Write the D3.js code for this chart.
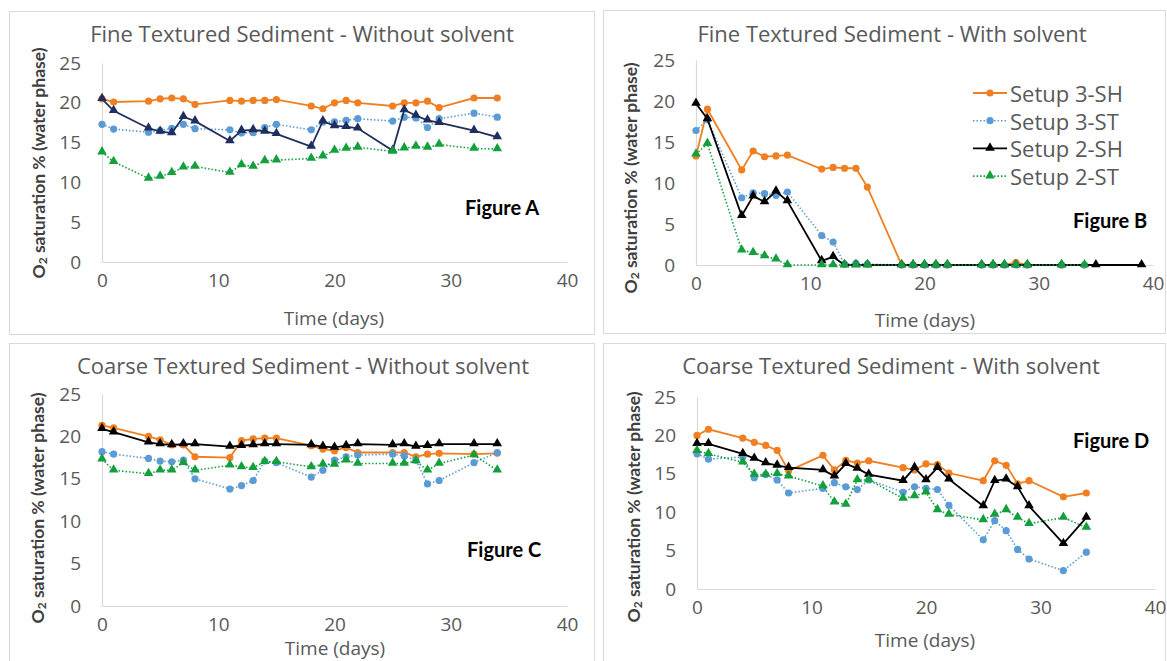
<!DOCTYPE html>
<html>
<head>
<meta charset="utf-8">
<script src="https://cdn.jsdelivr.net/npm/d3@7"></script>
<style>
  body { margin: 0; background: #fff; }
  text { font-family: "Open Sans", sans-serif; }
</style>
</head>
<body>
<div id="chart"></div>
<script>
'use strict';

// ---- data ----
const seriesNames = ['Setup 3-SH', 'Setup 3-ST', 'Setup 2-SH', 'Setup 2-ST'];
const days = [0, 1, 4, 5, 6, 7, 8, 11, 12, 13, 14, 15, 18, 19, 20, 21, 22, 25, 26, 27, 28, 29, 32, 34];
const daysB2SH = [0, 1, 4, 5, 6, 7, 8, 11, 12, 13, 14, 15, 18, 19, 20, 21, 22, 25, 26, 27, 28, 29, 32, 35, 39];
const yTicks = [0, 5, 10, 15, 20, 25];
const xTicks = [0, 10, 20, 30, 40];
const titles = [
    'Fine Textured Sediment - Without solvent',
    'Fine Textured Sediment - With solvent',
    'Coarse Textured Sediment - Without solvent',
    'Coarse Textured Sediment - With solvent'
];
const figureLabels = ['Figure A', 'Figure B', 'Figure C', 'Figure D'];

// Figure A
const a3SH = [20.5, 20.1, 20.2, 20.5, 20.6, 20.5, 19.8, 20.3, 20.2, 20.3, 20.3, 20.4, 19.6, 19.25, 20.0, 20.3, 20.0, 19.6, 20.0, 20.0, 20.2, 19.4, 20.6, 20.6];
const a3ST = [17.3, 16.7, 16.3, 16.5, 16.8, 17.3, 16.75, 16.6, 16.2, 16.25, 16.9, 17.3, 16.6, 17.6, 17.6, 17.8, 18.0, 17.7, 18.2, 18.1, 16.9, 18.0, 18.7, 18.2];
const a2SH = [20.5, 19.0, 16.8, 16.4, 16.2, 18.25, 17.7, 15.2, 16.5, 16.6, 16.4, 16.1, 14.5, 17.7, 17.1, 17.0, 16.8, 14.0, 19.1, 18.4, 17.8, 17.5, 16.5, 15.7];
const a2ST = [13.8, 12.6, 10.5, 10.75, 11.2, 11.9, 12.0, 11.25, 12.2, 12.0, 12.7, 12.8, 13.0, 13.3, 14.0, 14.25, 14.4, 13.9, 14.3, 14.5, 14.4, 14.75, 14.25, 14.2];

// Figure B
const b3SH = [13.3, 19.0, 11.6, 13.9, 13.2, 13.3, 13.4, 11.7, 11.9, 11.8, 11.8, 9.5, 0, 0, 0, 0, 0, 0, 0, 0, 0.3, 0, 0, 0];
const b3ST = [16.4, 17.7, 8.2, 8.8, 8.7, 8.5, 8.9, 3.6, 2.8, 0.1, 0.2, 0.1, 0, 0, 0, 0, 0, 0, 0, 0, 0, 0, 0, 0];
const b2SH = [19.7, 17.8, 6.0, 8.4, 7.7, 9.0, 7.8, 0.5, 1.0, 0, 0, 0, 0, 0, 0, 0, 0, 0, 0, 0, 0, 0, 0, 0, 0];
const b2ST = [13.5, 14.8, 1.8, 1.5, 1.1, 0.7, 0, 0, 0, 0, 0, 0, 0, 0, 0, 0, 0, 0, 0, 0, 0, 0, 0, 0];

// Figure C
const c3SH = [21.3, 21.0, 20.0, 19.6, 19.0, 19.0, 17.6, 17.5, 19.5, 19.7, 19.8, 19.8, 18.9, 18.5, 18.3, 18.7, 18.1, 18.1, 18.1, 17.6, 17.9, 18.0, 17.9, 18.0];
const c3ST = [18.2, 17.9, 17.4, 17.1, 17.0, 17.2, 15.0, 13.8, 14.2, 14.8, 17.1, 16.9, 15.2, 16.0, 17.2, 17.6, 17.8, 17.9, 17.7, 17.2, 14.4, 14.8, 16.9, 18.1];
const c2SH = [20.9, 20.5, 19.3, 19.1, 19.0, 19.1, 19.1, 18.8, 18.9, 19.0, 19.1, 19.1, 19.0, 18.8, 18.7, 18.9, 19.1, 19.0, 19.1, 18.8, 18.9, 19.1, 19.1, 19.1];
const c2ST = [17.3, 16.0, 15.6, 16.0, 16.0, 16.9, 16.0, 16.6, 16.4, 16.3, 17.0, 17.0, 16.4, 16.7, 16.7, 17.2, 16.8, 16.8, 16.8, 17.1, 16.0, 16.8, 17.8, 16.0];

// Figure D
const d3SH = [20.0, 20.8, 19.65, 19.1, 18.7, 18.05, 15.4, 17.4, 15.5, 16.75, 16.4, 16.7, 15.8, 15.5, 16.3, 16.2, 15.1, 14.1, 16.7, 16.1, 13.7, 14.1, 12.0, 12.5];
const d3ST = [17.6, 16.9, 17.2, 14.5, 14.9, 14.2, 12.5, 13.1, 13.85, 13.3, 12.95, 14.2, 12.6, 13.3, 13.1, 12.95, 10.9, 6.4, 8.9, 7.6, 5.15, 3.9, 2.4, 4.8];
const d2SH = [18.9, 18.9, 17.6, 17.0, 16.4, 16.1, 15.8, 15.5, 14.7, 16.3, 15.7, 14.9, 14.1, 15.8, 14.2, 15.8, 14.3, 10.8, 14.1, 14.3, 13.3, 10.8, 5.9, 9.3];
const d2ST = [18.0, 17.6, 16.5, 14.9, 14.9, 15.0, 14.7, 13.4, 11.3, 11.0, 14.2, 14.2, 11.8, 12.1, 12.6, 10.3, 9.7, 9.0, 9.7, 10.3, 9.3, 8.5, 9.3, 8.0];

// ---- layout / style ----
const W = 1167, H = 661;
const grey = '#595959';
const styles = [
    {color: '#F07F22', dash: null, marker: 'circle'},
    {color: '#5B9BD5', dash: '1.5,2', marker: 'circle'},
    {color: '#000000', dash: null, marker: 'triangle'},
    {color: '#13A03C', dash: '1.5,2', marker: 'triangle'}
];

const panels = [
    {frame: [9, 11, 594, 334], x: [102, 567], y: [262, 63], title: [302, 33], ytitle: [38, 163], xtitle: [334, 318], fig: [465, 215],
     series: [[days, a3SH], [days, a3ST], [days, a2SH], [days, a2ST]], color2SH: '#1F2E5E'},
    {frame: [603, 10, 1165, 333], x: [696, 1153], y: [265, 60], title: [892, 33], ytitle: [630, 178], xtitle: [925, 320], fig: [1073, 228],
     series: [[days, b3SH], [days, b3ST], [daysB2SH, b2SH], [days, b2ST]], legend: true},
    {frame: [9, 343, 594, 700], x: [102, 567], y: [606, 394], title: [303, 365], ytitle: [37, 508], xtitle: [335, 648], fig: [467, 557],
     series: [[days, c3SH], [days, c3ST], [days, c2SH], [days, c2ST]]},
    {frame: [603, 343, 1165, 700], x: [697, 1155], y: [589, 397], title: [891, 365], ytitle: [633, 507], xtitle: [925, 640], fig: [1073, 448],
     series: [[days, d3SH], [days, d3ST], [days, d2SH], [days, d2ST]]}
];

const svg = d3.select('#chart').append('svg')
    .attr('width', W)
    .attr('height', H);

const triangle = d3.symbol().type(d3.symbolTriangle).size(40);

function drawMarker(g, style, color, cx, cy) {
    if (style.marker === 'circle') {
        g.append('circle').attr('cx', cx).attr('cy', cy).attr('r', 3.6).attr('fill', color);
    } else {
        g.append('path').attr('d', triangle).attr('transform', 'translate(' + cx + ',' + (cy - 0.5) + ')').attr('fill', color);
    }
}

panels.forEach(function (p, i) {
    const g = svg.append('g');
    const f = p.frame;

    g.append('rect')
        .attr('x', f[0] + 0.5).attr('y', f[1] + 0.5)
        .attr('width', f[2] - f[0]).attr('height', f[3] - f[1])
        .attr('fill', '#fff').attr('stroke', '#D9D9D9');

    const x = d3.scaleLinear().domain([0, 40]).range(p.x);
    const y = d3.scaleLinear().domain([0, 25]).range(p.y);

    const yAxis = g.append('g')
        .attr('transform', 'translate(' + p.x[0] + ',0)')
        .call(d3.axisLeft(y).tickValues(yTicks).tickSize(0).tickPadding(21));
    const xAxis = g.append('g')
        .attr('transform', 'translate(0,' + p.y[0] + ')')
        .call(d3.axisBottom(x).tickValues(xTicks).tickSize(0).tickPadding(12));
    [yAxis, xAxis].forEach(function (a) {
        a.select('.domain').attr('stroke', '#D9D9D9').attr('stroke-width', 1.2);
        a.selectAll('text').attr('fill', grey).style('font-size', '19px').style('font-family', '"Open Sans", sans-serif');
    });

    g.append('text')
        .attr('x', p.title[0]).attr('y', p.title[1])
        .attr('text-anchor', 'middle').attr('dominant-baseline', 'central')
        .attr('fill', grey).style('font-size', '22px')
        .text(titles[i]);

    g.append('text')
        .attr('x', p.xtitle[0]).attr('y', p.xtitle[1])
        .attr('text-anchor', 'middle').attr('dominant-baseline', 'central')
        .attr('fill', grey).style('font-size', '19px')
        .text('Time (days)');

    const yt = g.append('text')
        .attr('transform', 'translate(' + p.ytitle[0] + ',' + p.ytitle[1] + ') rotate(-90)')
        .attr('text-anchor', 'middle').attr('dominant-baseline', 'central')
        .attr('fill', '#404040')
        .style('font-family', 'Lato, sans-serif').style('font-weight', 'bold').style('font-size', '17.5px');
    yt.append('tspan').text('O');
    yt.append('tspan').attr('dy', 4).style('font-size', '12px').text('2');
    yt.append('tspan').attr('dy', -4).text(' saturation  % (water phase)');

    g.append('text')
        .attr('x', p.fig[0]).attr('y', p.fig[1])
        .attr('fill', '#000')
        .style('font-family', 'Lato, sans-serif').style('font-weight', 'bold').style('font-size', '20px')
        .text(figureLabels[i]);

    p.series.forEach(function (s, k) {
        const st = styles[k];
        const color = (k === 2 && p.color2SH) ? p.color2SH : st.color;
        const pts = s[0].map(function (d, j) { return [d, s[1][j]]; });
        const line = d3.line().x(function (d) { return x(d[0]); }).y(function (d) { return y(d[1]); });
        g.append('path')
            .attr('d', line(pts))
            .attr('fill', 'none')
            .attr('stroke', color)
            .attr('stroke-width', st.dash ? 1.6 : 1.8)
            .attr('stroke-dasharray', st.dash);
        const mg = g.append('g');
        pts.forEach(function (d) {
            drawMarker(mg, st, color, x(d[0]), y(d[1]));
        });
    });

    if (p.legend) {
        const lg = g.append('g');
        seriesNames.forEach(function (name, k) {
            const st = styles[k];
            const ly = 93 + k * 27.7;
            lg.append('line')
                .attr('x1', 973).attr('x2', 1007).attr('y1', ly).attr('y2', ly)
                .attr('stroke', st.color).attr('stroke-width', st.dash ? 1.6 : 1.8)
                .attr('stroke-dasharray', st.dash);
            drawMarker(lg, st, st.color, 990, ly);
            lg.append('text')
                .attr('x', 1010).attr('y', ly)
                .attr('dominant-baseline', 'central')
                .attr('fill', grey).style('font-size', '22px')
                .text(name);
        });
    }
});
</script>
</body>
</html>
